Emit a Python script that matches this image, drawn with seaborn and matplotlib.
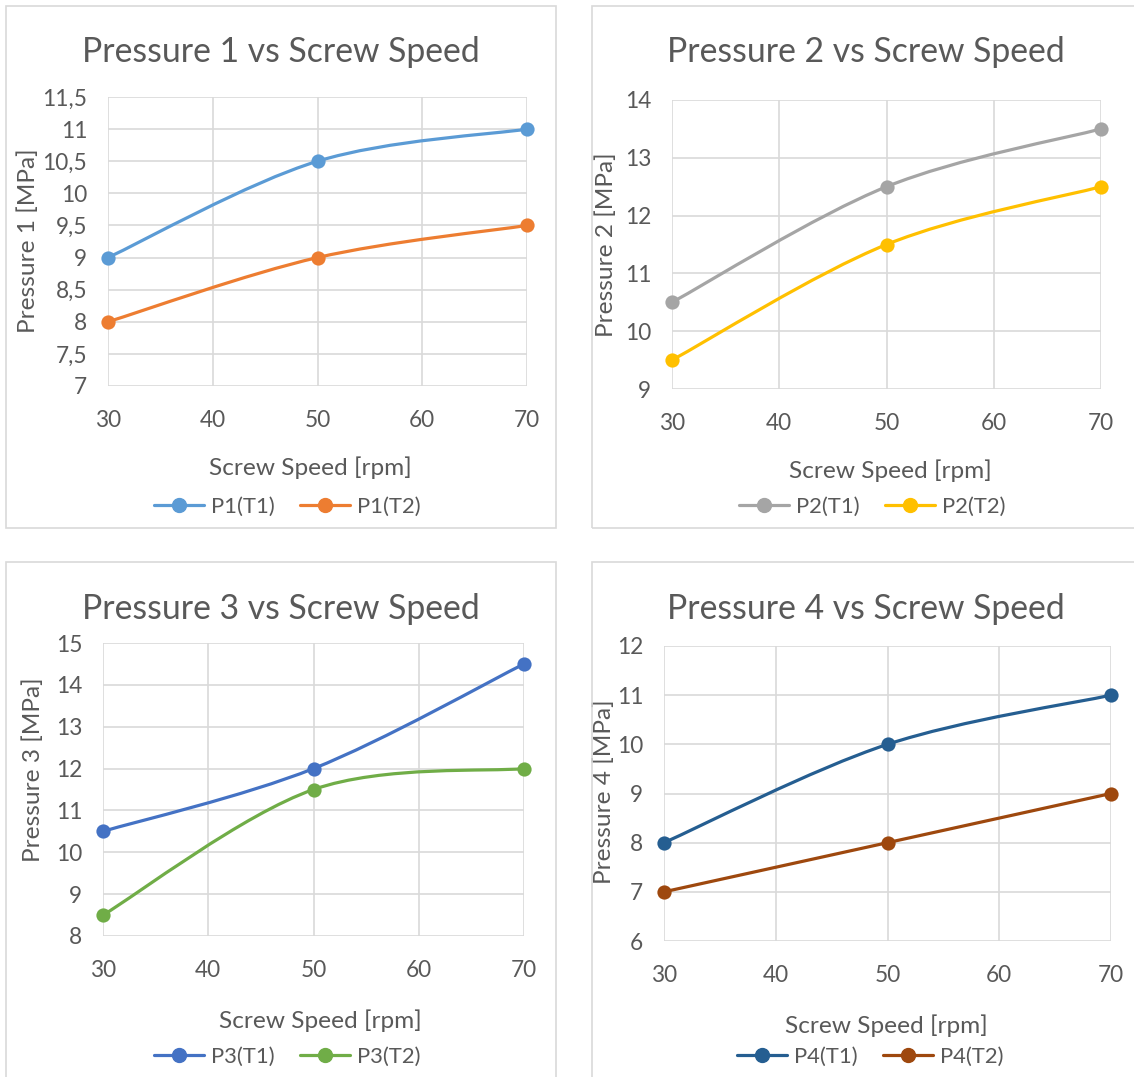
import numpy as np
import matplotlib
matplotlib.use("Agg")
import matplotlib.pyplot as plt
import seaborn as sns
from matplotlib.path import Path
from matplotlib.patches import PathPatch, Rectangle
from matplotlib.lines import Line2D
from matplotlib.ticker import FuncFormatter, MultipleLocator

# ---------------- data ----------------
screw_speed = [30, 50, 70]

p1_t1 = [9.0, 10.5, 11.0]
p1_t2 = [8.0, 9.0, 9.5]
p2_t1 = [10.5, 12.5, 13.5]
p2_t2 = [9.5, 11.5, 12.5]
p3_t1 = [10.5, 12.0, 14.5]
p3_t2 = [8.5, 11.5, 12.0]
p4_t1 = [8.0, 10.0, 11.0]
p4_t2 = [7.0, 8.0, 9.0]

titles = ["Pressure 1 vs Screw Speed", "Pressure 2 vs Screw Speed",
          "Pressure 3 vs Screw Speed", "Pressure 4 vs Screw Speed"]
ylabels = ["Pressure 1 [MPa]", "Pressure 2 [MPa]", "Pressure 3 [MPa]", "Pressure 4 [MPa]"]
xlabel = "Screw Speed [rpm]"
series_names = [("P1(T1)", "P1(T2)"), ("P2(T1)", "P2(T2)"),
                ("P3(T1)", "P3(T2)"), ("P4(T1)", "P4(T2)")]
series_values = [(p1_t1, p1_t2), (p2_t1, p2_t2), (p3_t1, p3_t2), (p4_t1, p4_t2)]
ylims = [(7, 11.5), (9, 14), (8, 15), (6, 12)]
ysteps = [0.5, 1, 1, 1]
xticks = [30, 40, 50, 60, 70]

colors = [("#5B9BD5", "#ED7D31"), ("#A5A5A5", "#FFC000"),
          ("#4472C4", "#70AD47"), ("#255E91", "#9E480E")]

# ---------------- layout (pixels) ----------------
W, H = 1134, 1077
layout = [
    dict(border=(6, 6, 556, 528), ax=(108, 97, 527, 386), title=(281, 52),
         xlab=(310, 468), ylab=(28, 241), leg=(287, 507)),
    dict(border=(592, 6, 1150, 528), ax=(672, 100, 1101, 389), title=(866, 52),
         xlab=(890, 471), ylab=(606, 245), leg=(872, 507)),
    dict(border=(6, 562, 556, 1090), ax=(103, 643, 524, 936), title=(281, 609),
         xlab=(320, 1021), ylab=(33, 770), leg=(287, 1057)),
    dict(border=(592, 562, 1150, 1090), ax=(664, 646, 1111, 941), title=(866, 609),
         xlab=(886, 1026), ylab=(604, 792), leg=(870, 1057)),
]

TXT = "#595959"
GRID = "#D9D9D9"

sns.set_theme(style="white")
plt.rcParams["font.family"] = ["Lato", "DejaVu Sans"]
plt.rcParams["text.color"] = TXT
plt.rcParams["axes.labelcolor"] = TXT
plt.rcParams["xtick.color"] = TXT
plt.rcParams["ytick.color"] = TXT

fig = plt.figure(figsize=(W / 100, H / 100), dpi=100)
fig.patch.set_facecolor("white")


def fx(px):
    return px / W


def fy(py):
    return 1 - py / H


def smooth_path(xs, ys):
    pts = np.column_stack([xs, ys]).astype(float)
    n = len(pts)
    verts = [pts[0]]
    codes = [Path.MOVETO]
    for i in range(n - 1):
        p0 = pts[max(i - 1, 0)]
        p1 = pts[i]
        p2 = pts[i + 1]
        p3 = pts[min(i + 2, n - 1)]
        c1 = p1 + (p2 - p0) / 6.0
        c2 = p2 - (p3 - p1) / 6.0
        verts += [c1, c2, p2]
        codes += [Path.CURVE4] * 3
    return Path(verts, codes)


comma_fmt = FuncFormatter(lambda v, pos: (f"{v:g}").replace(".", ","))

for k, lay in enumerate(layout):
    bl, bt, br, bb = lay["border"]
    fig.patches.append(Rectangle((fx(bl), fy(bb)), fx(br - bl), (bb - bt) / H,
                                 transform=fig.transFigure, fill=False,
                                 edgecolor="#D9D9D9", linewidth=1.2, zorder=0))
    l, t, r, b = lay["ax"]
    ax = fig.add_axes([fx(l), fy(b), fx(r - l), (b - t) / H])
    handles = []
    for name, vals, col in zip(series_names[k], series_values[k], colors[k]):
        ax.add_patch(PathPatch(smooth_path(screw_speed, vals), fill=False,
                               edgecolor=col, linewidth=2.3, zorder=3,
                               clip_on=False, capstyle="round"))
        sns.scatterplot(x=screw_speed, y=vals, ax=ax, color=col, s=105,
                        edgecolor=col, linewidth=0, zorder=4, clip_on=False,
                        legend=False)
        handles.append(Line2D([], [], color=col, lw=2.3, marker="o",
                              markersize=10, label=name))
    ax.set_xlim(30, 70)
    ax.set_ylim(*ylims[k])
    ax.set_xticks(xticks)
    ax.yaxis.set_major_locator(MultipleLocator(ysteps[k]))
    ax.yaxis.set_major_formatter(comma_fmt)
    ax.grid(True, color=GRID, linewidth=1.2)
    ax.set_axisbelow(True)
    for s in ax.spines.values():
        s.set_visible(False)
    ax.tick_params(axis="both", length=0, labelsize=16.3)
    ax.tick_params(axis="y", pad=15)
    ax.tick_params(axis="x", pad=17)

    ax.set_xlabel(xlabel, fontsize=17.6, va="center")
    ax.xaxis.set_label_coords(fx(lay["xlab"][0]), fy(lay["xlab"][1]),
                              transform=fig.transFigure)
    ax.set_ylabel(ylabels[k], fontsize=17.6, va="center")
    ax.yaxis.set_label_coords(fx(lay["ylab"][0]), fy(lay["ylab"][1]),
                              transform=fig.transFigure)

    fig.text(fx(lay["title"][0]), fy(lay["title"][1]), titles[k], fontsize=24.3,
             ha="center", va="center", color=TXT)

    fig.legend(handles=handles, loc="center",
               bbox_to_anchor=(fx(lay["leg"][0]), fy(lay["leg"][1])),
               bbox_transform=fig.transFigure, ncol=2, frameon=False,
               fontsize=15.8, handlelength=2.3, handletextpad=0.3,
               columnspacing=1.15, labelcolor=TXT)

fig.savefig("out.png", dpi=100, facecolor="white")
